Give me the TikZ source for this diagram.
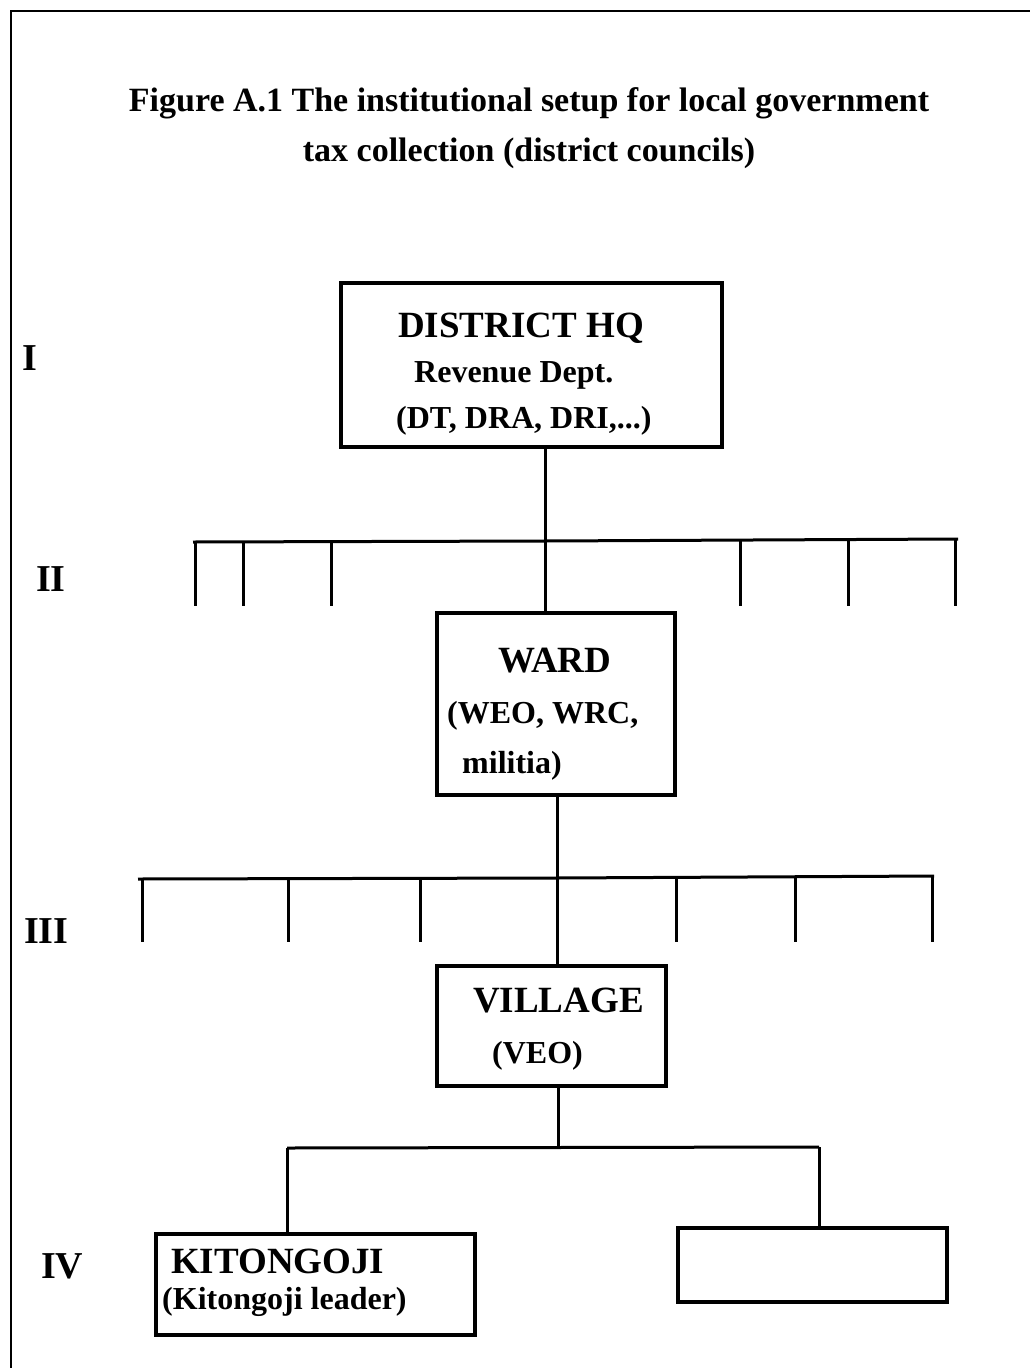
\documentclass[tikz,border=0pt]{standalone}
\usepackage{fontspec}
\setmainfont{Liberation Serif}
\begin{document}
\begin{tikzpicture}[x=1pt,y=-1pt,
  box/.style={draw,line width=3.4pt,inner sep=0pt},
  conn/.style={line width=3pt},
  txt/.style={inner sep=0pt,anchor=base west,font=\bfseries},
  big/.style={txt,font=\fontsize{37}{40}\selectfont\bfseries},
  small/.style={txt,font=\fontsize{32}{36}\selectfont\bfseries},
  roman/.style={txt,font=\fontsize{38}{40}\selectfont\bfseries},
  ttl/.style={inner sep=0pt,anchor=base,font=\fontsize{34}{38}\selectfont\bfseries}]
\useasboundingbox (0,0) rectangle (1030,1368);
% frame
\draw[line width=2.2pt] (11,1368) -- (11,11) -- (1030,11);
% title
\node[ttl] (t1) at (529,111) {Figure A.1 The institutional setup for local government};
\node[ttl] (t2) at (529,161) {tax collection (district councils)};
% level labels
\node[roman] (lI) at (22,370) {I};
\node[roman] (lII) at (36,591) {II};
\node[roman] (lIII) at (24,943) {III};
\node[roman] (lIV) at (41,1278) {IV};
% boxes
\node[box,minimum width=381pt,minimum height=164pt] (hq) at (531.5,365) {};
\node[box,minimum width=238pt,minimum height=182pt] (ward) at (556,704) {};
\node[box,minimum width=229pt,minimum height=120pt] (vil) at (551.5,1026) {};
\node[box,minimum width=319pt,minimum height=101pt] (kit) at (315.5,1284.5) {};
\node[box,minimum width=269pt,minimum height=74pt] (emp) at (812.5,1265) {};
% box texts
\node[big] (hq1) at (398,337) {DISTRICT HQ};
\node[small] (hq2) at (414,382) {Revenue Dept.};
\node[small] (hq3) at (396,428) {(DT, DRA, DRI,...)};
\node[big] (w1) at (498,672) {WARD};
\node[small] (w2) at (447,723) {(WEO, WRC,};
\node[small] (w3) at (462,773) {militia)};
\node[big] (v1) at (473,1012) {VILLAGE};
\node[small] (v2) at (492,1063) {(VEO)};
\node[big] (k1) at (171,1273) {KITONGOJI};
\node[small] (k2) at (162,1309) {(Kitongoji leader)};
% level II bar
\coordinate (b2c) at (545,541);
\coordinate (b2l) at (193,542);
\coordinate (b2r) at (958,539);
\draw[conn] (hq.south -| b2c) -- (b2c) -- (ward.north -| b2c);
\draw[conn] (b2l) -- (b2c) -- (b2r);
\foreach \x/\y in {195/542,243/542,331/542,740/540,848/539,955/539}
  \draw[conn] (\x,\y) -- (\x,606);
% level III bar
\coordinate (b3c) at (557,878);
\coordinate (b3l) at (138,879);
\coordinate (b3r) at (934,876);
\draw[conn] (ward.south -| b3c) -- (b3c) -- (vil.north -| b3c);
\draw[conn] (b3l) -- (b3c) -- (b3r);
\foreach \x/\y in {142/879,288/879,420/878,676/877,795/877,932/876}
  \draw[conn] (\x,\y) -- (\x,942);
% level IV bar
\coordinate (b4c) at (558,1148);
\coordinate (b4l) at (287,1148);
\coordinate (b4r) at (819,1147);
\draw[conn] (vil.south -| b4c) -- (b4c);
\draw[conn] (b4l) -- (b4r);
\draw[conn] (b4l) -- (kit.north -| b4l);
\draw[conn] (b4r) -- (emp.north -| b4r);
\end{tikzpicture}
\end{document}
